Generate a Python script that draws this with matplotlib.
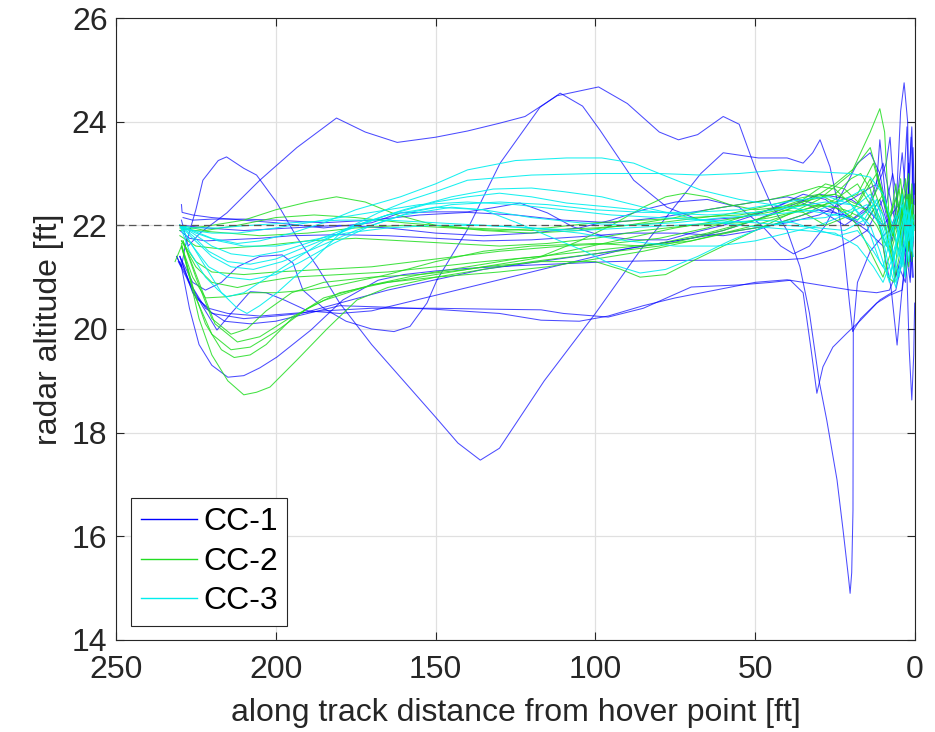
import matplotlib
matplotlib.use("Agg")
import matplotlib.pyplot as plt

plt.rcParams['font.family'] = ['Liberation Sans', 'DejaVu Sans']

# ---------------------------------------------------------------
#  Radar altitude runs, (distance from hover point [ft], altitude [ft])
# ---------------------------------------------------------------
HOVER_ALT = 22.0

CC1_RUNS = [
    [(229.5, 22.1), (227.4, 21.6), (223.7, 21.85), (215.3, 22.24), (205, 22.87), (193.4, 23.5), (181, 24.07),
     (172, 23.8), (162, 23.6), (150, 23.7), (140, 23.82), (130, 23.97), (122, 24.1), (112, 24.5), (99, 24.67),
     (90, 24.35), (80, 23.8), (74, 23.65), (68, 23.75), (60, 24.1), (55, 23.95), (50, 23.1), (45, 22.4),
     (40, 21.9), (36, 21.2), (33, 20.3), (30, 19.0), (27.6, 18.24), (24.4, 17.09), (22.5, 16.12), (20.8, 15.2),
     (20.3, 14.9), (19.8, 15.3), (19.4, 16.5), (19.3, 20.0), (18, 20.9), (14, 21.5), (10, 21.8), (6, 22.0),
     (3, 22.6), (1.5, 21.4), (0.5, 22.2)],
    [(231, 21.4), (229.5, 21.2), (228.4, 21.58), (225, 22.3), (222.8, 22.87), (218, 23.25), (215.4, 23.32),
     (210, 23.1), (206, 22.97), (199.6, 22.43), (193.4, 21.77), (187, 21.2), (180, 20.5), (170, 19.7),
     (160, 19.0), (150, 18.3), (143, 17.8), (136, 17.47), (130, 17.7), (116, 19.0), (100, 20.3), (85, 21.6),
     (67, 23.0), (60, 23.4), (49, 23.3), (40, 23.3), (35, 23.2), (32, 23.4), (29.7, 23.65), (26.6, 23.13),
     (24.4, 22.49), (22.5, 21.7), (20.5, 20.5), (19.5, 19.95), (17, 20.2), (12, 20.5), (8, 20.65), (4, 20.75),
     (2.5, 21.5), (1.2, 23.7), (0.3, 22.0)],
    [(230.5, 21.3), (228, 21.0), (225, 20.6), (221, 20.4), (215, 20.3), (205, 20.25), (195, 20.3), (185, 20.35),
     (170, 20.4), (150, 20.4), (130, 20.38), (117, 20.37), (110, 20.3), (96, 20.23), (85, 20.4), (70, 20.81),
     (55, 20.85), (45, 20.9), (39, 20.94), (35, 20.7), (32.5, 19.6), (30.7, 18.76), (28.8, 19.27),
     (25.7, 19.65), (21.3, 19.92), (17, 20.17), (11, 20.56), (6, 20.75), (3, 21.6), (1.5, 20.9), (0.5, 21.8)],
    [(229.5, 22.4), (229.3, 22.25), (226, 22.2), (220, 22.15), (210, 22.1), (200, 22.05), (185, 21.95),
     (170, 22.05), (161, 22.24), (150, 22.26), (140, 22.26), (131, 22.35), (123.6, 22.43), (115, 22.24),
     (107, 21.97), (98, 21.8), (88, 21.72), (77.6, 21.72), (70, 21.85), (60, 22.0), (50, 22.2), (42, 22.4),
     (35, 22.6), (28, 22.5), (22, 22.2), (16, 22.0), (11, 22.5), (7, 21.7), (4, 23.4), (2.5, 22.3), (1, 23.9),
     (0.3, 22.4)],
    [(230, 21.4), (227, 20.9), (222, 20.4), (216, 20.15), (208, 20.1), (200, 20.15), (190, 20.3), (180, 20.45),
     (165, 20.42), (150, 20.38), (130, 20.3), (117, 20.17), (105, 20.15), (96, 20.25), (85, 20.45), (75, 20.6),
     (60, 20.78), (50, 20.9), (40, 20.95), (30, 20.85), (20, 20.75), (12, 20.7), (8, 20.75), (5, 21.2),
     (3, 20.9), (1.5, 22.0), (0.5, 21.0)],
    [(231, 21.4), (229.5, 21.2), (227, 20.4), (224, 19.7), (220, 19.3), (215, 19.07), (210, 19.1), (205, 19.25),
     (199.6, 19.46), (189, 19.98), (179, 20.56), (168, 20.94), (160, 21.05), (150, 21.12), (140, 21.17),
     (125, 21.22), (110, 21.26), (95, 21.3), (80, 21.32), (60, 21.33), (40, 21.34), (35, 21.36), (30, 21.45),
     (25, 21.55), (20, 21.7), (15, 21.9), (10, 21.6), (7.5, 20.8), (5.6, 19.69), (4, 20.8), (2.5, 21.7),
     (1.5, 22.2), (0.8, 21.0)],
    [(230, 21.4), (226, 20.9), (222, 20.75), (217, 20.9), (212, 21.2), (205, 21.4), (198, 21.43), (194.6, 21.27),
     (191.5, 20.75), (185, 20.4), (178, 20.15), (170, 20.0), (163, 19.95), (158, 20.05), (152.7, 20.5),
     (149.6, 20.94), (140.2, 21.9), (129.8, 23.2), (117.3, 24.28), (111, 24.55), (104, 24.3), (98.6, 23.84),
     (88, 22.87), (77.6, 22.35), (67.3, 22.1), (55, 22.15), (45, 22.3), (38, 22.5), (30, 22.3), (22, 22.0),
     (15, 22.3), (10, 23.2), (6, 22.0), (3, 21.5), (1, 22.6)],
    [(230, 21.3), (227, 20.9), (223, 20.45), (218.4, 19.98), (214, 20.3), (208, 20.72), (203, 20.7),
     (197, 20.55), (190, 20.35), (180, 20.3), (170, 20.35), (160, 20.5), (150, 20.65), (140, 20.8), (130, 20.95),
     (120, 21.1), (110, 21.25), (100, 21.4), (90, 21.55), (80, 21.65), (70, 21.75), (60, 21.85), (50, 21.95),
     (40, 22.05), (30, 22.2), (25, 22.35), (20, 22.5), (15, 22.3), (10, 22.0), (5, 22.4), (2, 21.7), (0.5, 22.5)],
    [(229, 22.15), (226, 22.1), (220, 22.12), (210, 22.12), (200, 22.1), (185, 22.05), (170, 22.1), (155, 22.2),
     (140, 22.25), (125, 22.2), (110, 22.1), (95, 22.05), (80, 22.15), (65, 22.3), (50, 22.45), (40, 22.55),
     (30, 22.4), (20, 22.1), (14, 22.4), (9, 23.2), (7.8, 23.7), (6, 22.0), (3.5, 22.8), (2.5, 23.9),
     (1.5, 21.3), (0.6, 23.5), (0.2, 22.6)],
    [(230, 21.9), (227, 21.75), (222, 21.7), (215, 21.72), (205, 21.75), (195, 21.8), (180, 21.82), (165, 21.8),
     (150, 21.75), (135, 21.7), (120, 21.72), (105, 21.78), (90, 21.85), (75, 21.85), (60, 21.8), (50, 21.9),
     (40, 22.1), (30, 22.3), (22, 22.2), (15, 21.9), (10, 22.5), (8, 21.9), (6, 22.2), (4.5, 24.2), (3.4, 24.75),
     (2.3, 24.0), (1.5, 21.0), (0.8, 22.0)],
    [(230, 21.4), (226, 20.7), (220, 20.3), (210, 20.2), (200, 20.25), (192, 20.3), (180, 20.5), (165, 20.75),
     (150, 20.95), (135, 21.15), (114, 21.33), (100, 21.45), (85, 21.6), (70, 21.75), (60, 21.9), (50, 22.1),
     (40, 22.35), (30, 22.6), (20, 22.5), (12, 22.8), (11, 23.65), (9, 22.4), (7, 23.0), (4, 22.0), (2.5, 21.0),
     (1.8, 19.6), (1, 18.63), (0.4, 19.5), (0.1, 20.5)],
    [(229, 22.0), (222, 21.95), (210, 21.9), (195, 21.95), (180, 22.0), (165, 21.95), (150, 21.85), (135, 21.8),
     (120, 21.85), (105, 21.95), (95, 22.1), (85, 22.3), (75, 22.45), (65, 22.5), (55, 22.35), (48, 22.0),
     (42, 21.6), (38, 21.45), (33, 21.6), (28, 22.0), (23, 22.6), (18, 23.2), (14, 23.4), (11, 23.0), (8, 22.0),
     (6, 21.0), (4, 21.5), (2, 23.2), (0.8, 21.3), (0.2, 22.8)],
]

CC2_RUNS = [
    [(231.5, 21.3), (229.5, 21.6), (227, 21.0), (224, 20.2), (220, 19.5), (215, 19.0), (210, 18.73),
     (206, 18.78), (201.8, 18.88), (193.4, 19.4), (184, 20.0), (174.6, 20.56), (165, 20.8), (150, 21.0),
     (135, 21.15), (120, 21.3), (100, 21.45), (80, 21.6), (60, 21.9), (45, 22.2), (35, 22.4), (25, 22.8),
     (19, 23.1), (14, 23.5), (10, 22.6), (7, 21.8), (4, 22.7), (2, 21.5), (0.5, 22.2)],
    [(229.5, 21.6), (226, 20.8), (222, 20.1), (217, 19.6), (213, 19.45), (208, 19.5), (203, 19.7), (195, 20.2),
     (185, 20.6), (170, 20.85), (155, 21.0), (135, 21.2), (117, 21.3), (100, 21.3), (92, 21.15), (86, 21.0),
     (78, 21.05), (70, 21.3), (60, 21.6), (50, 21.9), (40, 22.2), (30, 22.5), (20, 23.0), (14, 23.8),
     (11, 24.25), (9.5, 23.8), (8, 22.0), (6.5, 21.0), (4, 22.4), (2, 21.6), (1, 22.8), (0.3, 21.9)],
    [(229.5, 21.65), (225, 20.6), (220, 19.9), (214, 19.6), (208, 19.65), (200, 19.95), (190, 20.4), (180, 20.7),
     (165, 20.9), (150, 21.0), (130, 21.1), (115, 21.2), (100, 21.35), (85, 21.5), (70, 21.7), (55, 21.9),
     (45, 22.0), (35, 22.2), (25, 22.5), (18, 22.8), (13, 22.3), (9, 21.6), (6, 22.8), (3.5, 21.4), (2, 22.5),
     (0.8, 21.7)],
    [(229, 21.7), (224, 20.9), (219, 20.1), (212, 19.75), (205, 19.85), (196, 20.2), (185, 20.55), (170, 20.85),
     (155, 21.05), (140, 21.2), (125, 21.35), (110, 21.45), (95, 21.55), (80, 21.65), (65, 21.85), (50, 22.1),
     (40, 22.3), (32, 22.55), (25, 22.6), (18, 22.4), (12, 23.0), (8, 22.1), (5, 21.5), (3, 22.9), (1.5, 21.8),
     (0.5, 22.4)],
    [(229, 21.7), (225, 21.0), (220, 20.2), (214, 19.9), (209, 20.0), (203, 20.35), (195, 20.7), (185, 20.9),
     (170, 21.0), (155, 21.05), (140, 21.15), (120, 21.35), (105, 21.55), (90, 21.75), (75, 21.95), (60, 22.1),
     (50, 22.2), (42, 22.3), (35, 22.25), (28, 22.0), (20, 22.2), (14, 22.9), (10, 22.2), (7, 21.3), (4, 22.0),
     (2, 23.0), (0.7, 21.6)],
    [(229.5, 21.6), (226, 21.0), (222, 20.6), (216, 20.62), (208, 20.7), (200, 20.7), (190, 20.75), (180, 20.85),
     (165, 21.05), (150, 21.3), (135, 21.5), (120, 21.6), (100, 21.65), (85, 21.6), (70, 21.7), (60, 21.85),
     (50, 22.0), (40, 22.2), (30, 22.4), (22, 22.3), (15, 22.1), (10, 22.6), (7, 21.8), (4, 22.6), (2, 21.9),
     (0.6, 22.5)],
    [(230, 21.9), (226, 21.95), (220, 22.0), (210, 22.1), (200, 22.3), (190, 22.45), (181, 22.55), (172, 22.45),
     (162, 22.2), (150, 22.0), (135, 21.9), (120, 21.85), (105, 21.9), (90, 22.0), (75, 22.15), (65, 22.3),
     (55, 22.4), (45, 22.5), (38, 22.6), (30, 22.75), (25, 22.7), (20, 22.4), (15, 22.3), (11, 22.8), (8, 22.2),
     (5, 22.7), (3, 21.8), (1.5, 22.6), (0.5, 22.1)],
    [(229.5, 21.7), (225, 21.2), (220, 20.9), (212, 20.8), (205, 20.9), (195, 21.0), (180, 21.05), (165, 21.1),
     (150, 21.2), (135, 21.3), (117, 21.4), (105, 21.7), (95, 22.0), (85, 22.35), (78, 22.55), (72, 22.62),
     (65, 22.55), (58, 22.4), (50, 22.3), (42, 22.35), (35, 22.5), (28, 22.8), (22, 22.7), (17, 22.4),
     (12, 22.0), (8, 21.5), (5, 22.2), (3, 21.0), (1.5, 22.5), (0.5, 21.8)],
    [(230, 21.95), (225, 21.9), (215, 21.85), (205, 21.8), (190, 21.85), (175, 21.95), (160, 22.0), (145, 21.95),
     (130, 21.9), (115, 21.95), (100, 22.05), (85, 22.1), (70, 22.15), (55, 22.2), (45, 22.3), (35, 22.4),
     (25, 22.35), (18, 22.1), (13, 22.4), (9, 21.9), (6, 22.5), (3.5, 22.0), (2, 22.6), (0.5, 22.0)],
    [(230, 21.8), (225, 21.6), (218, 21.55), (205, 21.6), (190, 21.7), (175, 21.75), (160, 21.7), (145, 21.65),
     (130, 21.6), (115, 21.65), (100, 21.75), (85, 21.9), (70, 22.0), (55, 22.05), (45, 22.15), (35, 22.3),
     (25, 22.45), (18, 22.6), (13, 23.2), (10, 22.5), (7, 21.9), (4.5, 22.9), (2.5, 21.5), (1, 22.3)],
    [(230, 22.0), (222, 21.9), (212, 22.0), (200, 22.15), (188, 22.2), (175, 22.15), (160, 22.05), (140, 21.95),
     (120, 21.9), (100, 21.95), (80, 22.05), (60, 22.2), (48, 22.35), (38, 22.5), (30, 22.6), (24, 22.4),
     (18, 22.0), (14, 21.5), (10, 21.0), (7, 21.6), (4, 22.3), (2, 21.2), (0.8, 22.0)],
    [(229.5, 21.7), (225, 21.3), (220, 21.1), (210, 21.05), (200, 21.1), (185, 21.15), (170, 21.2), (150, 21.35),
     (130, 21.5), (110, 21.6), (95, 21.65), (80, 21.75), (65, 21.95), (52, 22.2), (42, 22.35), (32, 22.5),
     (25, 22.6), (20, 22.9), (17, 23.0), (14, 22.7), (11, 22.0), (8.5, 21.0), (6.5, 20.9), (4, 21.7),
     (2.5, 22.6), (1, 21.3), (0.3, 22.2)],
]

CC3_RUNS = [
    [(230, 22.0), (226, 21.9), (220, 21.75), (212, 21.65), (205, 21.7), (195, 21.85), (185, 22.05), (175, 22.3),
     (161, 22.55), (150, 22.8), (140, 23.07), (125, 23.25), (109, 23.3), (98, 23.3), (88, 23.2), (78, 22.95),
     (67, 22.68), (55, 22.5), (45, 22.4), (35, 22.3), (25, 22.2), (18, 22.1), (13, 22.4), (9, 21.6), (6, 22.2),
     (4, 21.2), (2.5, 22.1), (1, 21.5), (0.3, 22.0)],
    [(230, 22.0), (227, 21.7), (222, 21.2), (217, 20.7), (212, 20.4), (209, 20.3), (205, 20.45), (199.6, 20.7),
     (189.3, 21.27), (179, 21.9), (168, 22.24), (158, 22.49), (150, 22.65), (140, 22.87), (120, 22.97),
     (100, 23.0), (80, 23.0), (67, 22.97), (55, 23.0), (42, 23.07), (30, 23.03), (20, 23.0), (14, 22.93),
     (10, 22.6), (7, 22.0), (5, 21.4), (3, 22.3), (1.5, 21.8), (0.5, 22.1)],
    [(230, 22.0), (226, 21.85), (220, 21.6), (214, 21.45), (207, 21.4), (198, 21.5), (188, 21.7), (175, 22.0),
     (160, 22.3), (145, 22.55), (132, 22.7), (120, 22.72), (110, 22.65), (98, 22.55), (85, 22.35), (67, 22.1),
     (55, 22.0), (45, 21.95), (35, 21.9), (25, 21.85), (18, 21.6), (13, 21.2), (10, 20.9), (7.5, 21.3),
     (5, 21.9), (3, 21.0), (1.8, 22.2), (0.6, 21.7)],
    [(230, 22.0), (226, 21.8), (221, 21.5), (215, 21.3), (208, 21.25), (200, 21.35), (190, 21.6), (178, 21.9),
     (165, 22.2), (150, 22.45), (140, 22.55), (130, 22.62), (120, 22.55), (109, 22.43), (95, 22.35),
     (78, 22.24), (65, 22.2), (50, 22.25), (38, 22.35), (28, 22.45), (20, 22.4), (14, 22.0), (11, 21.5),
     (8, 20.9), (6, 21.6), (3.5, 22.2), (2, 21.3), (0.7, 22.0)],
    [(230, 22.0), (226, 21.75), (220, 21.4), (214, 21.2), (207, 21.15), (198, 21.3), (188, 21.55), (175, 21.9),
     (160, 22.2), (145, 22.35), (135, 22.3), (124.5, 22.05), (115, 21.8), (104, 21.52), (95, 21.25),
     (86, 21.08), (78, 21.15), (68, 21.4), (58, 21.7), (48, 21.95), (38, 22.1), (28, 22.15), (20, 22.3),
     (14, 22.6), (10, 22.2), (7, 21.5), (5, 21.0), (3, 21.6), (1.5, 22.3), (0.5, 21.8)],
    [(230, 22.0), (226, 21.9), (220, 21.85), (212, 21.85), (200, 21.95), (185, 22.1), (170, 22.25), (155, 22.4),
     (140, 22.45), (125, 22.4), (110, 22.3), (95, 22.2), (80, 22.15), (65, 22.1), (50, 22.05), (40, 22.0),
     (30, 21.95), (22, 21.9), (16, 22.1), (12, 22.5), (9, 21.8), (6, 20.9), (4, 21.4), (2, 22.0), (0.5, 21.4)],
    [(230, 22.0), (226, 21.95), (218, 21.95), (208, 22.0), (195, 22.05), (180, 22.1), (165, 22.1), (150, 22.05),
     (135, 22.0), (120, 21.95), (105, 21.9), (90, 21.95), (75, 22.0), (60, 22.05), (48, 22.1), (38, 22.05),
     (30, 21.9), (24, 21.8), (18, 21.9), (13, 21.5), (10, 21.2), (7, 21.9), (4, 22.4), (2, 21.7), (0.5, 22.2)],
    [(230, 22.0), (226, 21.6), (221, 21.2), (215, 21.0), (208, 20.95), (200, 21.05), (192, 21.3), (182, 21.65),
     (170, 22.0), (158, 22.25), (145, 22.4), (130, 22.45), (115, 22.4), (100, 22.3), (85, 22.25), (70, 22.25),
     (55, 22.3), (45, 22.4), (35, 22.5), (27, 22.55), (20, 22.4), (15, 22.0), (11, 21.3), (8, 21.0), (6, 21.5),
     (4, 22.6), (2.5, 21.9), (1, 22.4)],
    [(230, 22.0), (227, 21.5), (222, 21.0), (218, 20.75), (215.3, 20.62), (210, 20.7), (205, 20.9), (195, 21.3),
     (185, 21.7), (175, 22.0), (165, 22.2), (150, 22.35), (135, 22.3), (120, 22.15), (105, 22.05), (90, 22.0),
     (75, 22.05), (60, 22.15), (48, 22.2), (38, 22.25), (30, 22.3), (22, 22.5), (16, 22.7), (12, 22.3),
     (9, 21.7), (6.5, 21.1), (4.5, 21.7), (2.5, 22.5), (1, 21.6), (0.3, 22.0)],
    [(230, 22.0), (225, 21.85), (218, 21.7), (210, 21.6), (200, 21.6), (190, 21.7), (178, 21.85), (165, 21.95),
     (150, 22.0), (135, 22.0), (120, 21.95), (105, 21.85), (90, 21.7), (75, 21.6), (62, 21.6), (50, 21.7),
     (40, 21.85), (30, 22.0), (22, 22.2), (15, 22.4), (11, 22.0), (8.5, 21.3), (6, 20.8), (4, 21.5),
     (2.5, 22.3), (1, 21.8)],
]

GROUPS = [("CC-1", CC1_RUNS, "#0000ff", 0.7),
          ("CC-2", CC2_RUNS, "#22dd22", 0.85),
          ("CC-3", CC3_RUNS, "#00eeee", 0.9)]

fig = plt.figure(figsize=(9.35, 7.32), dpi=100)
ax = fig.add_axes([0.124, 0.1257, 0.8546, 0.8497])

handles = []
for label, runs, color, alpha in GROUPS:
    for i, run in enumerate(runs):
        xs = [p[0] for p in run]
        ys = [p[1] for p in run]
        ln, = ax.plot(xs, ys, color=color, lw=0.75, alpha=alpha)
        if i == 0:
            handles.append((ln, label))

ax.axhline(HOVER_ALT, color='#555555', lw=0.9, ls=(0, (6, 4)), zorder=5)

ax.set_xlim(250, 0)
ax.set_ylim(14, 26)
ax.set_xticks([250, 200, 150, 100, 50, 0])
ax.set_yticks([14, 16, 18, 20, 22, 24, 26])
ax.grid(True, color='#e0e0e0', lw=0.9)
ax.set_axisbelow(True)
ax.tick_params(direction='in', top=True, right=True, length=6, width=0.8,
               labelsize=23, colors='#262626', pad=6)
ax.tick_params(axis='x', pad=11)
for sp in ax.spines.values():
    sp.set_color('#262626')
    sp.set_linewidth(0.8)

ax.set_xlabel('along track distance from hover point [ft]', fontsize=23, color='#262626', labelpad=9)
ax.set_ylabel('radar altitude [ft]', fontsize=23, color='#262626', labelpad=6)

leg = ax.legend([h[0] for h in handles], [h[1] for h in handles],
                loc='lower left', bbox_to_anchor=(0.019, 0.0225), borderaxespad=0,
                fontsize=23, handlelength=1.75, handletextpad=0.2, labelspacing=0.3,
                borderpad=0.3, fancybox=False, framealpha=1)
leg.get_frame().set_edgecolor('#262626')
leg.get_frame().set_linewidth(0.8)
for lh in leg.get_lines():
    lh.set_alpha(1)
    lh.set_linewidth(1.0)

fig.savefig('out.png', dpi=100)
